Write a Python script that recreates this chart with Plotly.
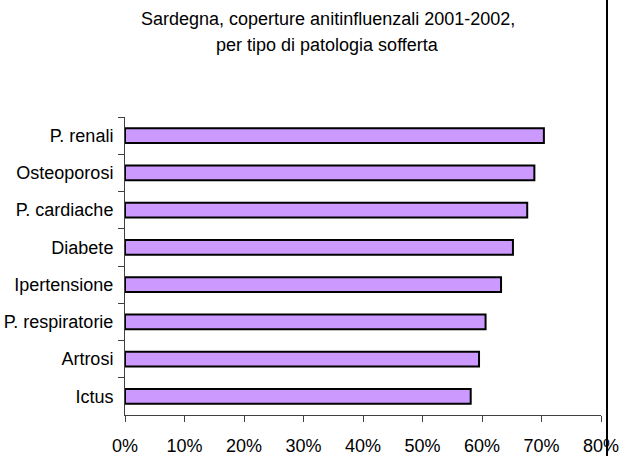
import plotly.graph_objects as go

categories = ["P. renali", "Osteoporosi", "P. cardiache", "Diabete",
              "Ipertensione", "P. respiratorie", "Artrosi", "Ictus"]
coverage_pct = [70.4, 68.8, 67.6, 65.2, 63.2, 60.6, 59.5, 58.1]
x_ticks = [0, 10, 20, 30, 40, 50, 60, 70, 80]
title_lines = ["Sardegna, coperture anitinfluenzali 2001-2002,",
               "per tipo di patologia sofferta"]

FONT = "Liberation Sans Narrow, Arial Narrow, Liberation Sans, Arial, sans-serif"
FS = 18

W, H = 633, 456
L, R, T, B = 125, 32, 117, 41
PW, PH = W - L - R, H - T - B

def px_to_paper_x(px):
    return (px - L) / PW

def px_to_paper_y(py):
    return (H - B - py) / PH

fig = go.Figure(go.Bar(
    x=coverage_pct,
    y=categories,
    orientation="h",
    width=0.4,
    marker=dict(color="#CC99FF", line=dict(color="#000000", width=2)),
    hoverinfo="x+y",
))

fig.update_layout(
    template="none",
    width=W, height=H,
    margin=dict(l=L, r=R, t=T, b=B),
    paper_bgcolor="white", plot_bgcolor="white",
    font=dict(family=FONT, size=FS, color="#000000"),
    showlegend=False,
    xaxis=dict(range=[0, 80], tickvals=x_ticks, ticktext=[f"{v}%" for v in x_ticks],
               automargin=False,
               showgrid=False, zeroline=False, showline=True, linecolor="#404040", linewidth=1,
               ticks="outside", ticklen=6, tickcolor="#404040", tickwidth=1,
               ticklabelstandoff=8, fixedrange=True),
    yaxis=dict(autorange="reversed", automargin=False, showgrid=False, zeroline=False,
               showline=True, linecolor="#404040", linewidth=1, ticks="outside", ticklen=6,
               tickcolor="#404040", tickwidth=1, tickson="boundaries",
               ticklabelstandoff=7, fixedrange=True),
)

# two-line title, placed as annotations
for text, cy in zip(title_lines, [19, 45]):
    fig.add_annotation(text=text, xref="paper", yref="paper",
                       x=px_to_paper_x(327.5), y=px_to_paper_y(cy),
                       xanchor="center", yanchor="middle", showarrow=False,
                       font=dict(family=FONT, size=FS, color="#000000"))

# right frame line of the original chart area
fig.add_shape(type="line", xref="paper", yref="paper",
              x0=px_to_paper_x(607), x1=px_to_paper_x(607),
              y0=px_to_paper_y(H + 4), y1=px_to_paper_y(-4),
              line=dict(color="#000000", width=2))

fig.write_html("out.html", config={"displayModeBar": False},
               post_script="document.body.style.margin='0';")
